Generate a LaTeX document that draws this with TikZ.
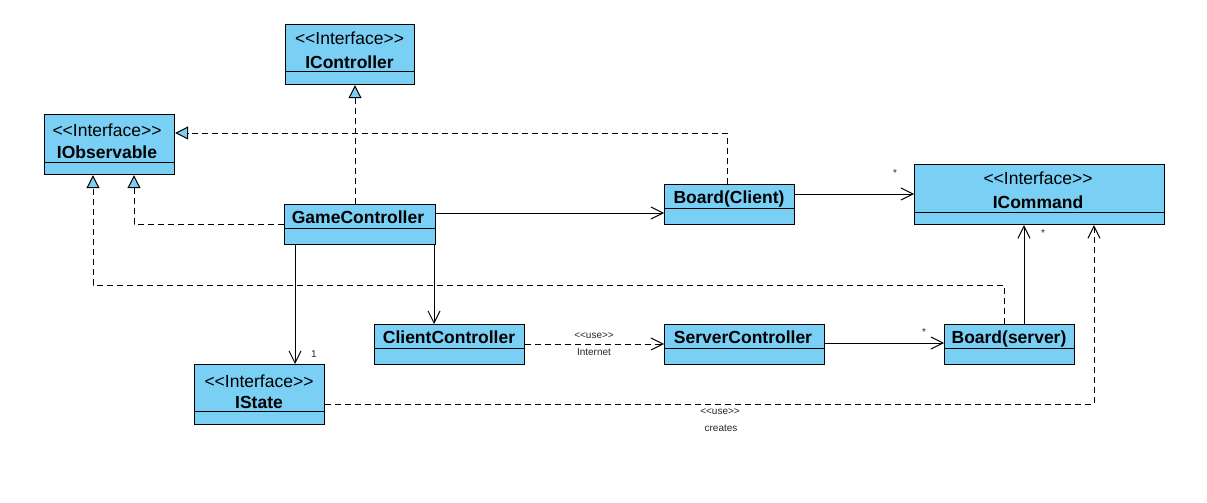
\documentclass[tikz,border=0pt]{standalone}
\usepackage{fontspec}
\setmainfont{Liberation Sans}
\usetikzlibrary{arrows.meta}
\definecolor{umlblue}{RGB}{122,207,245}
\definecolor{lblgray}{RGB}{40,40,40}
\newcommand{\stlt}{<\kern0pt<\kern0pt}
\newcommand{\stgt}{>\kern0pt>}
\begin{document}
\begin{tikzpicture}[x=1pt,y=-1pt,
  cls/.style={draw=black, line width=1.2pt, fill=umlblue, inner sep=0pt, anchor=north west},
  divline/.style={draw=black, line width=1pt},
  stereo/.style={font=\fontsize{17.5}{20}\selectfont, inner sep=0pt, anchor=base},
  cname/.style={font=\fontsize{17.5}{20}\selectfont\bfseries, inner sep=0pt, anchor=base},
  small/.style={font=\fontsize{10}{12}\selectfont, text=lblgray, inner sep=0pt},
  real/.style={draw=black, line width=1pt, dash pattern=on 6pt off 4pt, -{Triangle[fill=umlblue, length=13pt, width=13pt, line width=1pt]}},
  assoc/.style={draw=black, line width=1pt, -{Straight Barb[length=12pt, width=12pt, line width=1pt]}},
  usedep/.style={draw=black, line width=1pt, dash pattern=on 6pt off 4pt, -{Straight Barb[length=12pt, width=12pt, line width=1pt]}}
]
\useasboundingbox (0,0) rectangle (1207,503);
\fill[white] (0,0) rectangle (1207,503);

% IController
\node[cls, minimum width=129pt, minimum height=60pt] (ictrl) at (285,24) {};
\draw[divline] (ictrl.west |- 0,72) -- (ictrl.east |- 0,72);
\node[stereo] (ictrlS) at (349.5,45) {\stlt Interface\stgt};
\node[cname] (ictrlN) at (349.5,68) {IController};

% IObservable
\node[cls, minimum width=130pt, minimum height=60pt] (iobs) at (44,114) {};
\draw[divline] (iobs.west |- 0,162) -- (iobs.east |- 0,162);
\node[stereo] (iobsS) at (107,136) {\stlt Interface\stgt};
\node[cname] (iobsN) at (107,158) {IObservable};

% GameController
\node[cls, minimum width=151pt, minimum height=40pt] (gc) at (284,204) {};
\draw[divline] (gc.west |- 0,228) -- (gc.east |- 0,228);
\node[cname] (gcN) at (358,223) {GameController};

% Board(Client)
\node[cls, minimum width=130pt, minimum height=40pt] (bc) at (664,184) {};
\draw[divline] (bc.west |- 0,208) -- (bc.east |- 0,208);
\node[cname] (bcN) at (729,203) {Board(Client)};

% ICommand
\node[cls, minimum width=250pt, minimum height=60pt] (icmd) at (914,164) {};
\draw[divline] (icmd.west |- 0,212) -- (icmd.east |- 0,212);
\node[stereo] (icmdS) at (1038,184) {\stlt Interface\stgt};
\node[cname] (icmdN) at (1038,208) {ICommand};

% ClientController
\node[cls, minimum width=150pt, minimum height=40pt] (cc) at (374,324) {};
\draw[divline] (cc.west |- 0,348) -- (cc.east |- 0,348);
\node[cname] (ccN) at (449,343) {ClientController};

% ServerController
\node[cls, minimum width=160pt, minimum height=40pt] (sc) at (664,324) {};
\draw[divline] (sc.west |- 0,348) -- (sc.east |- 0,348);
\node[cname] (scN) at (743,343) {ServerController};

% Board(server)
\node[cls, minimum width=130pt, minimum height=40pt] (bs) at (944,324) {};
\draw[divline] (bs.west |- 0,348) -- (bs.east |- 0,348);
\node[cname] (bsN) at (1009,343) {Board(server)};

% IState
\node[cls, minimum width=130pt, minimum height=60pt] (ist) at (194,364) {};
\draw[divline] (ist.west |- 0,411) -- (ist.east |- 0,411);
\node[stereo] (istS) at (259,387) {\stlt Interface\stgt};
\node[cname] (istN) at (259,408) {IState};

% realizations
\draw[real] (gc.north -| 355,0) -- (ictrl.south -| 355,0);
\draw[real] (bc.north -| 727,0) |- (iobs.east |- 0,133);
\draw[real] (gc.west |- 0,224) -| (iobs.south -| 134,0);
\coordinate (bend1) at (93,285);
\draw[real] (bs.north -| 1004,0) |- (bend1) -- (iobs.south -| 93,0);

% associations
\draw[assoc] (gc.east |- 0,213) -- (bc.west |- 0,213);
\draw[assoc] (bc.east |- 0,194) -- (icmd.west |- 0,194);
\draw[assoc] (gc.south -| 434,0) -- (cc.north -| 434,0);
\draw[assoc] (gc.south -| 295,0) -- (ist.north -| 295,0);
\draw[assoc] (sc.east |- 0,343) -- (bs.west |- 0,343);
\draw[assoc] (bs.north -| 1024,0) -- (icmd.south -| 1024,0);

% dependencies
\draw[usedep] (cc.east |- 0,344) -- (sc.west |- 0,344);
\draw[usedep] (ist.east |- 0,404) -| (icmd.south -| 1094,0);

% labels
\node[small] (m1) at (895,173) {*};
\node[small] (m2) at (1043,233) {*};
\node[small] (m3) at (924,332) {*};
\node[small] (m4) at (314,354) {1};
\node[small] (u1) at (594,336) {\stlt use\stgt};
\node[small] (u2) at (594,352) {Internet};
\node[small] (u3) at (720,412) {\stlt use\stgt};
\node[small] (u4) at (721,428) {creates};
\end{tikzpicture}
\end{document}
